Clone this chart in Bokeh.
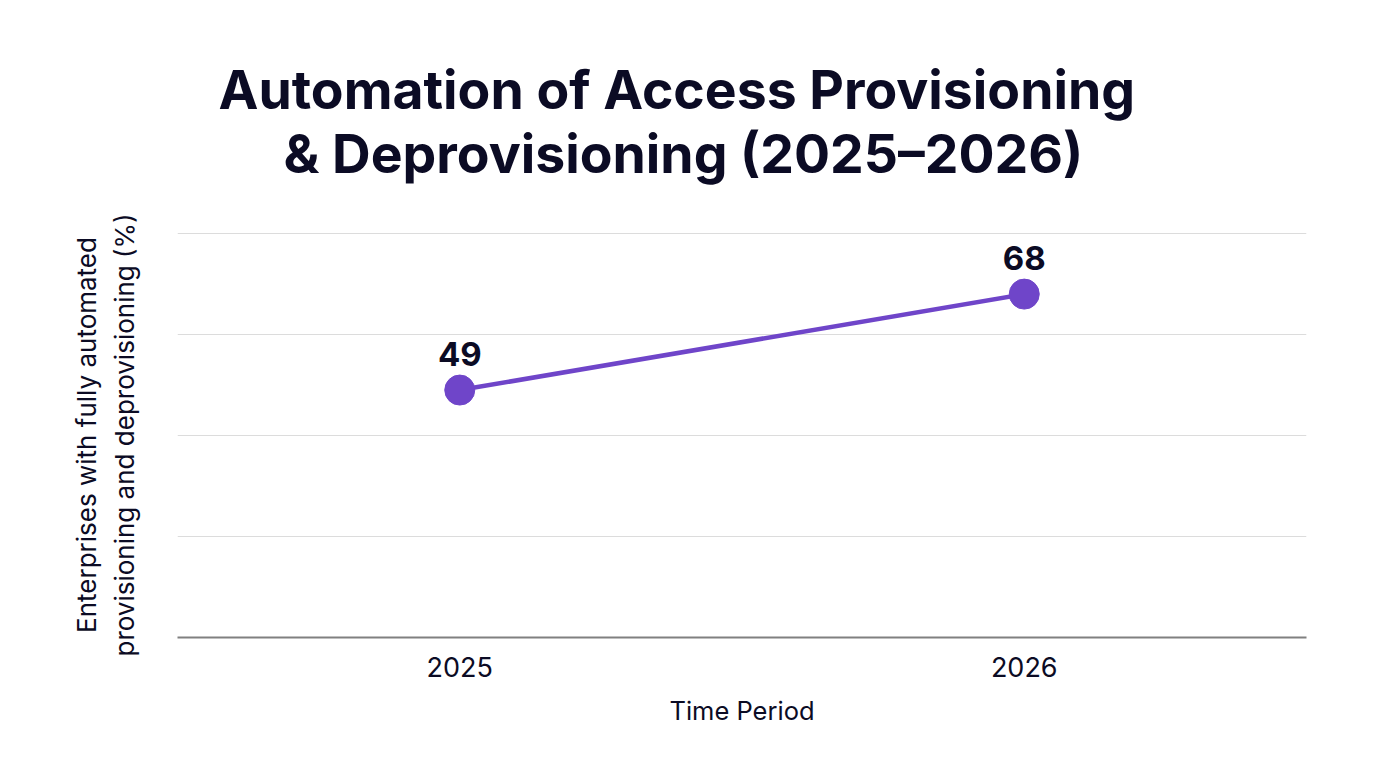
from bokeh.plotting import figure
from bokeh.models import FactorRange, Range1d, Title, FixedTicker, ColumnDataSource, LabelSet
from bokeh.core.properties import value
from bokeh.embed import file_html
from bokeh.resources import INLINE

# Data
periods = ["2025", "2026"]
automated_pct = [49, 68]
y_ticks = [0, 20, 40, 60, 80]

title_lines = ["Automation of Access Provisioning", "& Deprovisioning (2025\u20132026)"]

NAVY = "#0b0b24"
PURPLE = "#6f45c9"
FONT = "Inter"

Y_TOP = 80.2
FRAME_LEFT, FRAME_TOP, FRAME_BOTTOM = 177, 232, 637

p = figure(
    width=1376, height=768,
    x_range=FactorRange(*periods, range_padding=0),
    y_range=Range1d(0, Y_TOP),
    output_backend="svg", toolbar_location=None,
    min_border_left=FRAME_LEFT, min_border_right=70,
    min_border_top=FRAME_TOP, min_border_bottom=768 - FRAME_BOTTOM,
)
p.title = None
p.outline_line_color = None
p.background_fill_color = "white"
p.border_fill_color = "white"

# Title block above the plot area. Panels stack outward from the frame:
# a blank spacer first, then the second title line, then the first.
p.add_layout(Title(text=" ", text_font_size="10px", standoff=33.5), "above")
for line, left, gap in ((title_lines[1], 283, 0), (title_lines[0], 218, -6)):
    p.add_layout(Title(
        text=line, align="left", offset=left - FRAME_LEFT, standoff=gap,
        text_font=FONT, text_font_size="53.5px", text_font_style="bold",
        text_color=NAVY,
    ), "above")

# grid
p.xgrid.grid_line_color = None
p.ygrid.ticker = FixedTicker(ticks=y_ticks)
p.ygrid.grid_line_color = "#dcdcdc"
p.ygrid.grid_line_width = 1.2

# y axis: label only
p.yaxis.ticker = FixedTicker(ticks=[])
p.yaxis.axis_line_color = None
p.yaxis.major_tick_line_color = None
p.yaxis.minor_tick_line_color = None
p.yaxis.axis_label = "Enterprises with fully automated\nprovisioning and deprovisioning (%)"
p.yaxis.axis_label_text_font = FONT
p.yaxis.axis_label_text_font_size = "26px"
p.yaxis.axis_label_text_font_style = "normal"
p.yaxis.axis_label_text_color = NAVY
p.yaxis.axis_label_standoff = 38

# x axis
p.xaxis.axis_line_color = "#808080"
p.xaxis.axis_line_width = 2
p.xaxis.major_tick_line_color = None
p.xaxis.minor_tick_line_color = None
p.xaxis.major_label_text_font = FONT
p.xaxis.major_label_text_font_size = "27px"
p.xaxis.major_label_text_color = NAVY
p.xaxis.major_label_standoff = 13
p.xaxis.axis_label = "Time Period"
p.xaxis.axis_label_text_font = FONT
p.xaxis.axis_label_text_font_size = "25.5px"
p.xaxis.axis_label_text_font_style = "normal"
p.xaxis.axis_label_text_color = NAVY
p.xaxis.axis_label_standoff = 15

src = ColumnDataSource(dict(x=periods, y=automated_pct, txt=[str(v) for v in automated_pct]))
p.line("x", "y", source=src, line_color=PURPLE, line_width=4.5)
p.scatter("x", "y", source=src, size=30, fill_color=PURPLE, line_color=PURPLE)

labels = LabelSet(x="x", y="y", text="txt", source=src, y_offset=24,
                  text_align="center", text_baseline="bottom",
                  text_font=value(FONT), text_font_size="33px", text_font_style="bold",
                  text_color=NAVY)
p.add_layout(labels)

open("out.html", "w").write(file_html(p, INLINE))
